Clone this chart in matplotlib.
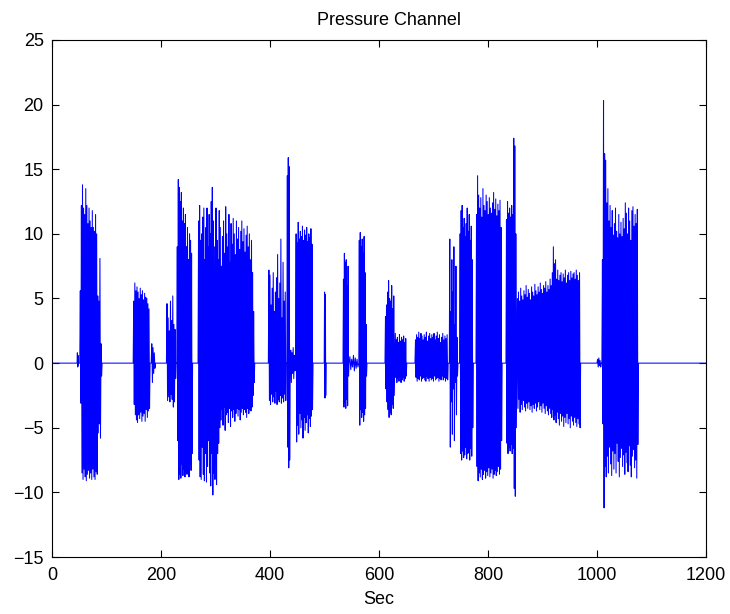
import numpy as np
import matplotlib
matplotlib.use("Agg")
import matplotlib.pyplot as plt

plt.rcParams['font.family'] = ['Liberation Sans', 'DejaVu Sans']

# burst windows (sec) and the peak values
burst_start = [46, 51, 149, 182, 210, 229, 268, 300, 397, 431, 437, 447, 499.5,
               534, 545, 563, 611, 629, 666, 729, 748, 778, 833, 853, 1000, 1009]
burst_end = [49, 92, 180, 190, 228, 258, 300, 372, 430, 437, 447, 479, 503,
             545, 563, 578, 629, 651, 727, 745, 773, 826, 853, 970, 1008, 1076]

burst_hi = [
    [0.8, 0.6],
    [5.6, 12.2, 13.8, 12.0, 11.5, 13.5, 12.2, 10.8, 12.0, 11.0, 10.5, 11.8, 10.5, 10.2, 11.5, 10.0, 5.2, 4.8, 8.1, 1.5],
    [4.8, 6.2, 5.6, 5.9, 5.5, 5.0, 5.8, 5.3, 5.6, 4.9, 5.4, 5.1, 5.0, 4.6, 4.2],
    [1.5, 1.2, 0.8],
    [4.6, 3.5, 2.5, 4.8, 3.3, 5.2, 3.0, 2.6],
    [9.0, 14.2, 13.6, 12.5, 13.2, 11.0, 12.0, 10.8, 11.5, 9.0, 10.5, 8.0, 10.0, 9.5, 8.5],
    [11.0, 12.2, 9.5, 10.0, 11.3, 12.0, 8.0, 10.5, 12.0, 9.0, 11.5, 10.0, 12.5, 13.6, 11.0, 9.0],
    [12.0, 9.5, 8.0, 11.8, 10.5, 7.5, 9.8, 11.0, 8.5, 12.1, 10.0, 9.0, 11.5, 7.8, 10.8, 9.2, 11.2, 10.0,
     8.4, 11.0, 9.6, 10.5, 8.8, 10.2, 11.0, 9.4, 10.4, 8.6, 9.9, 10.6, 9.0, 10.0, 8.0, 9.5, 7.0, 4.0],
    [7.2, 6.8, 4.5, 5.8, 7.0, 4.0, 5.5, 6.6, 8.4, 5.0, 6.2, 9.6, 3.5, 7.8, 4.8, 5.5],
    [14.5, 15.9, 15.2],
    [1.0, 0.8, 1.2, 0.6],
    [10.0, 9.3, 10.9, 9.6, 10.2, 9.8, 10.6, 9.5, 10.3, 9.9, 10.5, 9.4, 10.0, 9.7, 10.4, 9.2],
    [5.5, 5.3],
    [6.5, 8.5, 7.8, 8.0, 6.0, 7.5],
    [0.5, 0.3, 0.6, 0.4, 0.3],
    [9.5, 10.1, 9.0, 9.6, 8.5, 9.8, 7.0, 3.0],
    [3.6, 4.5, 5.5, 6.4, 5.0, 4.8, 6.0, 4.2, 5.2],
    [2.3, 1.8, 2.0, 1.6, 2.2, 1.7, 2.0, 1.8, 2.1, 1.6, 1.9],
    [1.8, 2.2, 2.0, 2.4, 1.9, 2.3, 2.1, 1.8, 2.2, 2.0, 2.4, 1.7, 2.1, 2.3, 1.9,
     2.2, 2.0, 2.3, 1.8, 2.1, 2.4, 1.9, 2.2, 1.6, 2.0, 2.3, 1.8, 2.1, 1.9, 2.2],
    [9.6, 4.0, 8.0, 5.5, 9.0, 3.0, 7.5, 2.0],
    [10.0, 11.8, 12.2, 10.5, 11.2, 9.8, 10.8, 12.0, 10.2, 11.5, 9.5, 10.6, 8.0],
    [11.5, 14.5, 13.0, 12.0, 12.8, 11.3, 13.5, 12.2, 11.8, 13.0, 12.5, 11.5,
     12.8, 12.0, 11.6, 12.4, 13.2, 11.9, 12.7, 11.4, 12.3, 11.8, 12.6, 10.5],
    [11.1, 12.5, 11.6, 12.0, 11.3, 12.2, 11.5, 17.4, 16.8, 10.0],
    [5.0, 5.5, 4.8, 5.8, 5.2, 4.9, 5.6, 5.3, 6.0, 5.1, 5.7, 5.4, 4.9, 5.9, 5.5,
     5.2, 6.1, 5.6, 5.3, 5.9, 5.5, 6.2, 5.7, 5.4, 6.0, 5.8, 6.3, 5.5, 6.0, 5.7,
     6.5, 6.0, 7.0, 9.0, 7.7, 8.0, 6.5, 7.2, 6.4, 6.8, 7.0, 6.3, 6.9, 6.6, 7.2,
     6.2, 6.8, 7.0, 6.4, 7.1, 6.6, 6.9, 7.0, 6.5, 7.2, 6.8, 6.4, 7.0],
    [0.3, 0.4, 0.2],
    [8.0, 20.3, 16.2, 15.7, 12.4, 13.5, 11.0, 12.2, 10.5, 11.8, 9.9, 10.8, 12.0, 10.2, 9.7,
     11.5, 10.0, 10.9, 9.8, 11.2, 10.4, 12.4, 11.6, 10.0, 12.0, 11.0, 9.5, 11.8, 12.1, 10.6,
     11.5, 10.8, 11.9],
]

burst_lo = [
    [-0.3, -0.2],
    [-3.1, -8.5, -9.0, -8.2, -8.8, -9.1, -8.6, -8.3, -8.9, -8.5, -9.0, -8.2, -8.8, -9.0, -8.4, -8.6, -5.4, -4.7, -5.8, -1.0],
    [-3.2, -4.0, -4.4, -4.6, -4.0, -4.3, -3.8, -4.5, -4.1, -3.9, -4.5, -3.6, -4.2, -3.7, -3.5],
    [-1.5, -0.8, -0.4],
    [-2.9, -2.6, -3.0, -2.4, -2.8, -3.4, -3.0, -1.2],
    [-6.0, -9.0, -8.6, -8.9, -7.8, -8.7, -8.2, -8.8, -8.4, -8.6, -7.5, -8.8, -7.9, -8.3, -7.0],
    [-7.5, -8.8, -9.0, -6.5, -8.6, -9.1, -7.0, -9.2, -8.0, -6.0, -8.5, -9.5, -7.0, -10.2, -8.5, -9.0],
    [-9.4, -7.0, -6.2, -5.0, -4.4, -3.6, -4.8, -3.4, -5.2, -4.0, -3.8, -4.6, -3.5, -4.9, -3.7, -4.2, -3.6, -4.5,
     -3.9, -3.5, -4.1, -3.6, -4.4, -3.8, -3.5, -4.0, -3.6, -3.8, -4.2, -3.5, -3.9, -3.6, -3.7, -3.4, -2.5, -1.5],
    [-2.9, -3.2, -2.4, -3.0, -2.6, -3.1, -2.2, -3.2, -2.8, -3.0, -2.5, -3.1, -2.7, -3.0, -2.4, -2.9],
    [-6.5, -8.1, -7.5],
    [-1.5, -0.8, -1.2, -0.6],
    [-6.1, -4.8, -5.5, -3.9, -5.0, -4.4, -5.8, -4.2, -5.2, -4.6, -4.0, -5.4, -4.3, -4.9, -4.1, -3.6],
    [-2.7, -2.5],
    [-3.4, -3.0, -3.5, -2.8, -3.3, -1.0],
    [-0.5, -0.3, -0.6, -0.4, -0.3],
    [-4.8, -3.6, -4.2, -3.8, -4.5, -4.0, -3.5, -1.0],
    [-2.0, -3.0, -3.6, -4.2, -3.8, -4.0, -3.2, -3.5, -2.5],
    [-1.1, -1.5, -1.2, -1.4, -1.0, -1.5, -1.3, -1.1, -1.4, -1.2, -1.0],
    [-1.1, -1.4, -1.2, -1.3, -1.0, -1.4, -1.2, -1.1, -1.3, -1.4, -1.0, -1.2, -1.4, -1.1, -1.3,
     -1.2, -1.4, -1.0, -1.3, -1.2, -1.1, -1.4, -1.2, -1.3, -1.0, -1.3, -1.1, -1.4, -1.2, -1.3],
    [-6.5, -3.0, -5.5, -2.0, -6.0, -1.5, -4.0, -1.0],
    [-7.0, -7.5, -6.8, -7.3, -7.1, -6.5, -7.4, -7.0, -6.9, -7.5, -6.6, -7.2, -5.0],
    [-8.0, -9.1, -8.5, -8.8, -8.2, -9.0, -8.6, -8.3, -8.9, -8.4, -8.7, -8.1,
     -8.8, -8.5, -8.2, -8.9, -8.6, -8.3, -8.7, -8.4, -8.0, -8.6, -8.2, -6.0],
    [-6.2, -7.0, -6.5, -6.8, -6.3, -7.0, -6.6, -9.7, -10.3, -5.0],
    [-3.5, -2.8, -3.8, -3.2, -3.6, -2.9, -3.4, -3.7, -3.1, -3.5, -3.0, -3.6, -3.3, -3.8, -3.2,
     -3.5, -3.1, -3.7, -3.4, -3.0, -3.6, -3.3, -3.8, -3.1, -3.5, -3.9, -3.3, -3.7, -4.0, -3.5,
     -3.9, -4.2, -3.6, -4.4, -4.0, -4.6, -3.8, -4.3, -4.8, -3.9, -4.5, -4.1, -4.9, -4.2, -4.6,
     -3.9, -4.7, -4.3, -5.0, -4.1, -4.5, -4.8, -4.2, -4.6, -4.9, -4.3, -4.7, -5.0],
    [-0.3, -0.2, -0.3],
    [-4.7, -11.2, -8.0, -8.8, -7.2, -8.5, -6.5, -7.8, -8.7, -6.8, -8.2, -7.0, -8.5, -6.2, -7.6,
     -8.8, -7.3, -6.6, -8.0, -7.1, -8.6, -6.9, -7.7, -8.4, -6.4, -7.9, -8.8, -7.2, -6.7, -8.1,
     -7.5, -8.9, -6.3],
]

t_range = [0, 1200]

# build the trace: flat zero between bursts, alternating peaks inside
t = [t_range[0]]
p = [0.0]
for s, e, hi, lo in zip(burst_start, burst_end, burst_hi, burst_lo):
    vals = []
    for h, l in zip(hi, lo):
        vals += [h, l]
    tt = np.linspace(s, e, len(vals) + 2)
    t += list(tt)
    p += [0.0] + vals + [0.0]
t.append(t_range[1])
p.append(0.0)

fig = plt.figure(figsize=(7.3, 6.14), dpi=100)
ax = fig.add_axes([0.0712, 0.0928, 0.8959, 0.8421])
ax.plot(t, p, color='#0000ff', linewidth=0.75)

ax.set_xlim(0, 1200)
ax.set_ylim(-15, 25)
ax.set_xticks(np.arange(0, 1201, 200))
ax.set_yticks(np.arange(-15, 26, 5))
ax.tick_params(direction='in', top=True, right=True, length=5, labelsize=13)
ax.tick_params(axis='x', pad=7)
ax.tick_params(axis='y', pad=6)
for sp in ax.spines.values():
    sp.set_linewidth(0.8)
ax.set_title('Pressure Channel', fontsize=13, pad=11, x=0.515)
ax.set_xlabel('Sec', fontsize=13, labelpad=5)

fig.savefig('out.png', dpi=100)
